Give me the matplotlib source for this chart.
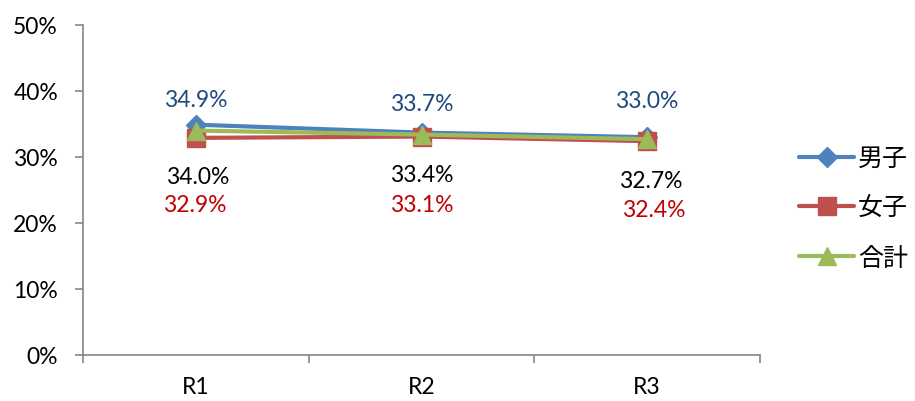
import matplotlib
matplotlib.use("Agg")
import matplotlib.pyplot as plt
from matplotlib.ticker import FixedLocator

# Data
categories = ["R1", "R2", "R3"]
series_names = ["男子", "女子", "合計"]
boys = [34.9, 33.7, 33.0]
girls = [32.9, 33.1, 32.4]
total = [34.0, 33.4, 32.7]
y_ticks = [0, 10, 20, 30, 40, 50]

plt.rcParams["font.family"] = ["Lato", "Noto Sans CJK JP", "DejaVu Sans"]

fig = plt.figure(figsize=(9.15, 4.02), dpi=100)
ax = fig.add_axes([83 / 915, 46 / 402, (760 - 83) / 915, (356 - 26) / 402])

x = list(range(len(categories)))
styles = [
    dict(color="#4F81BD", marker="D", markersize=10),
    dict(color="#C0504D", marker="s", markersize=13),
    dict(color="#9BBB59", marker="^", markersize=13),
]
for vals, name, st in zip([boys, girls, total], series_names, styles):
    ax.plot(x, [v / 100 for v in vals], label=name, linewidth=3,
            solid_capstyle="round", **st)

# Data labels: boys above, total and girls below
def put_labels(vals, offsets, color):
    for xi, v, (dx, dy) in zip(x, vals, offsets):
        ax.annotate(f"{v:.1f}%", (xi, v / 100), xytext=(dx, dy),
                    textcoords="offset pixels", ha="center", va="center",
                    fontsize=16.5, color=color)

put_labels(boys, [(0, 25), (0, 29), (0, 37)], "#1F497D")
put_labels(total, [(2, -46), (0, -40), (4, -41)], "black")
put_labels(girls, [(-1, -67), (0, -68), (7, -68)], "#C00000")

ax.set_xlim(-0.5, 2.5)
ax.set_ylim(0, 0.5)
ax.set_yticks([t / 100 for t in y_ticks])
ax.set_yticklabels([f"{t}%" for t in y_ticks])
ax.set_xticks(x)
ax.set_xticklabels(categories)
ax.xaxis.set_minor_locator(FixedLocator([-0.5, 0.5, 1.5, 2.5]))

for s in ["top", "right"]:
    ax.spines[s].set_visible(False)
for s in ["left", "bottom"]:
    ax.spines[s].set_color("#868686")
    ax.spines[s].set_linewidth(1.2)

ax.tick_params(axis="y", which="major", length=6, width=1.2, color="#868686",
               pad=12, labelsize=16.5, labelcolor="black")
ax.tick_params(axis="x", which="major", length=0, pad=15, labelsize=16.5,
               labelcolor="black")
ax.tick_params(axis="x", which="minor", length=6, width=1.2, color="#868686")

leg = fig.legend(loc="center left", bbox_to_anchor=(799 / 915, 1 - 209 / 402),
                 frameon=False, borderpad=0, borderaxespad=0,
                 prop={"family": ["Noto Sans CJK JP"], "size": 18},
                 handlelength=2.2, handletextpad=0.15, labelspacing=0.95)

fig.savefig("out.png", dpi=100)
